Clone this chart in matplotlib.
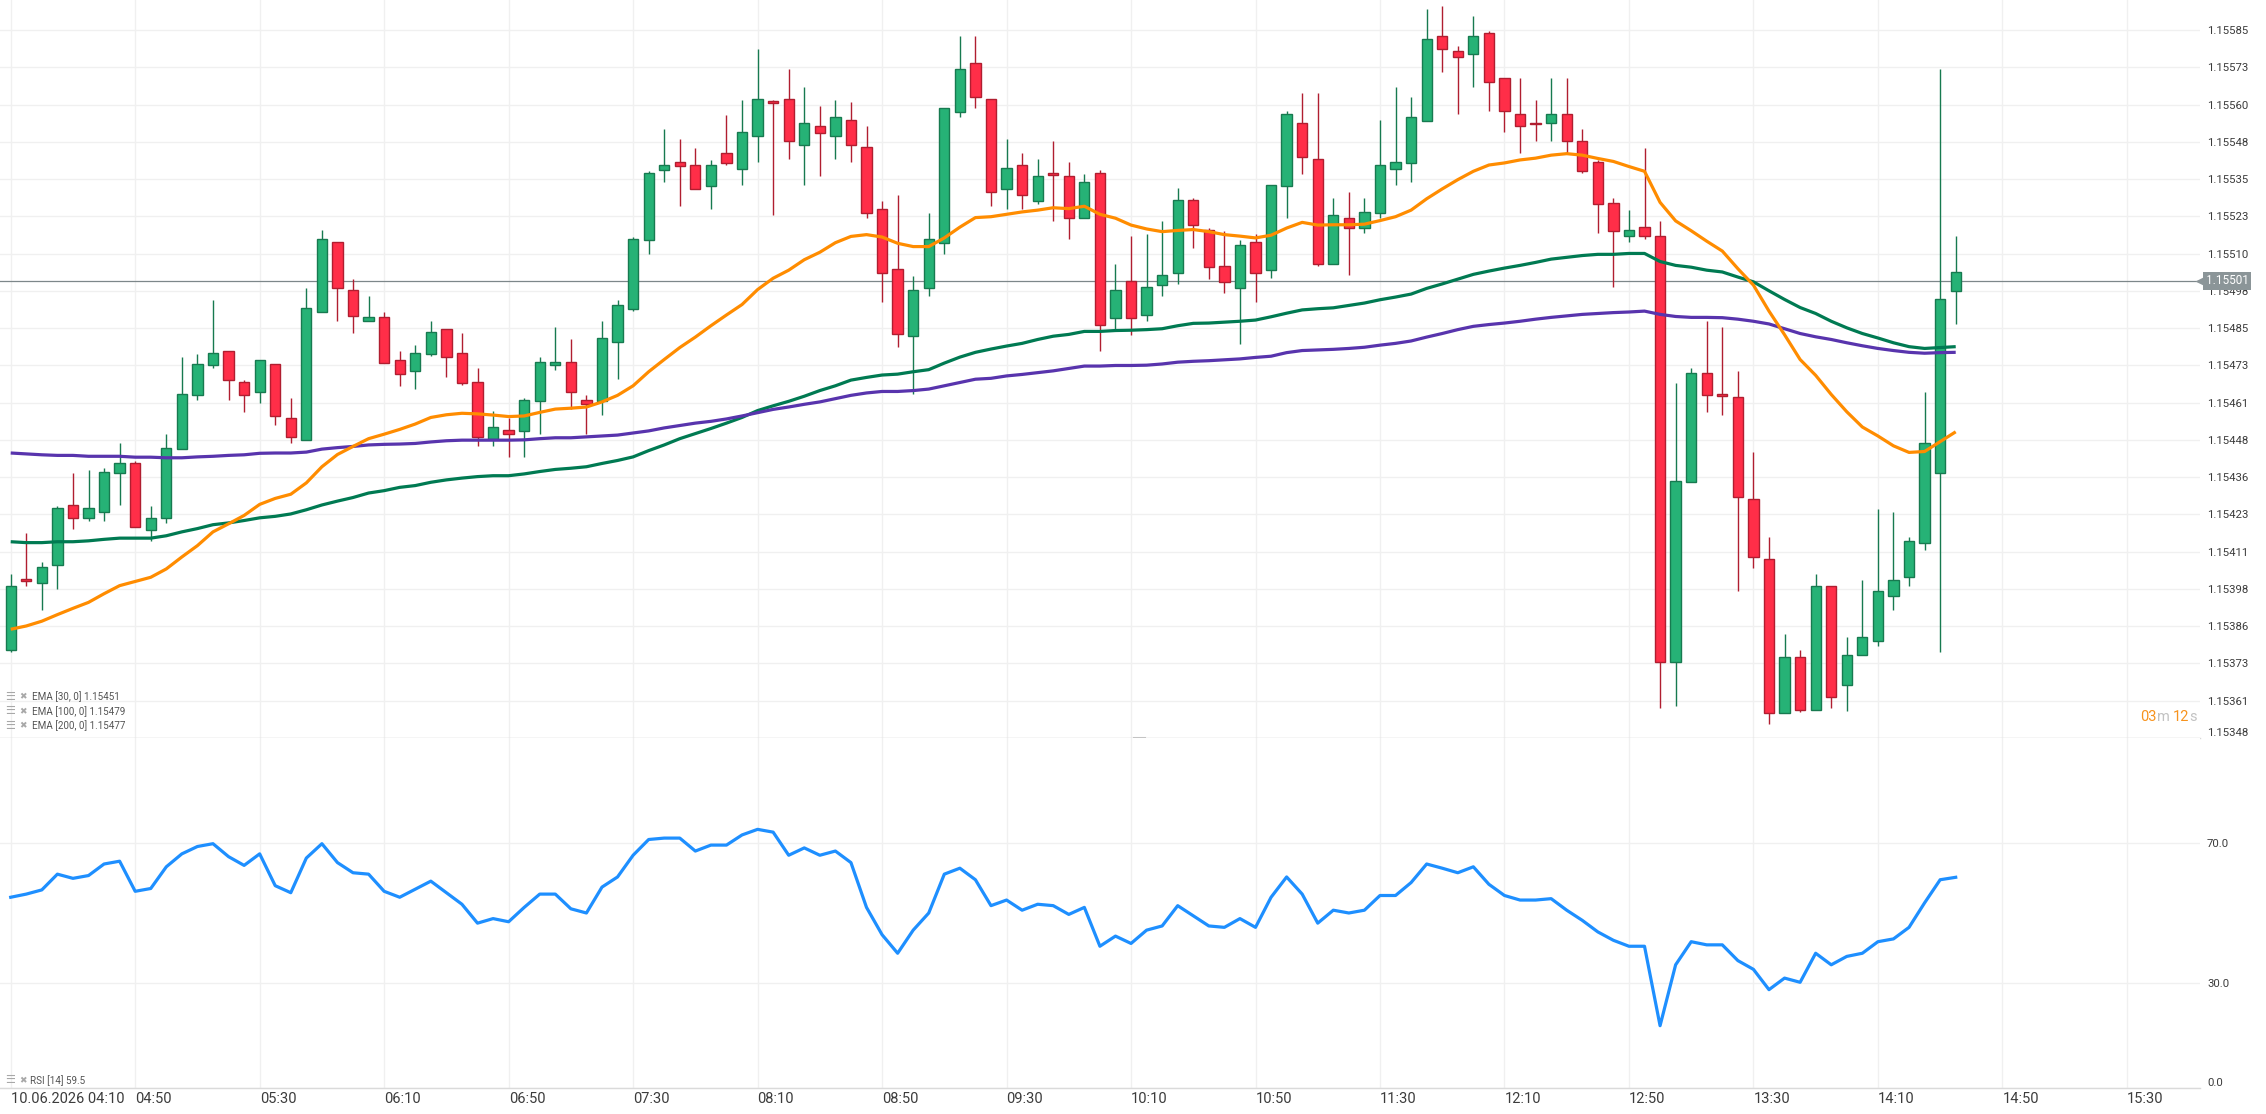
import matplotlib.pyplot as plt
import numpy as np
from matplotlib.transforms import blended_transform_factory, IdentityTransform

# EUR/USD 5 minute candles, 10.06.2026 04:10 - 14:35
opens = [1.153776, 1.154012, 1.153998, 1.154059, 1.154259, 1.154216, 1.154236, 1.154368, 1.154399, 1.154176,
         1.154216, 1.154447, 1.154627, 1.154727, 1.154777, 1.154671, 1.154638, 1.154732, 1.154550, 1.154478,
         1.154906, 1.155140, 1.154980, 1.154875, 1.154888, 1.154747, 1.154708, 1.154765, 1.154849, 1.154769,
         1.154671, 1.154482, 1.154510, 1.154508, 1.154607, 1.154728, 1.154738, 1.154610, 1.154607, 1.154804,
         1.154915, 1.155146, 1.155380, 1.155409, 1.155398, 1.155328, 1.155439, 1.155386, 1.155496, 1.155611,
         1.155619, 1.155466, 1.155529, 1.155496, 1.155549, 1.155459, 1.155250, 1.155050, 1.154825, 1.154988,
         1.155137, 1.155576, 1.155741, 1.155619, 1.155317, 1.155398, 1.155279, 1.155371, 1.155361, 1.155219,
         1.155371, 1.154887, 1.155010, 1.154896, 1.154997, 1.155037, 1.155280, 1.155179, 1.155059, 1.154988,
         1.155140, 1.155046, 1.155328, 1.155538, 1.155418, 1.155067, 1.155220, 1.155187, 1.155238, 1.155386,
         1.155404, 1.155546, 1.155831, 1.155780, 1.155768, 1.155841, 1.155690, 1.155568, 1.155538, 1.155537,
         1.155568, 1.155478, 1.155409, 1.155271, 1.155159, 1.155190, 1.155160, 1.153736, 1.154338, 1.154701,
         1.154632, 1.154621, 1.154281, 1.154078, 1.153564, 1.153751, 1.153575, 1.153990, 1.153656, 1.153757,
         1.153806, 1.153956, 1.154018, 1.154134, 1.154368, 1.154975]
highs = [1.154029, 1.154167, 1.154069, 1.154257, 1.154368, 1.154377, 1.154385, 1.154467, 1.154407, 1.154257,
         1.154497, 1.154757, 1.154765, 1.154947, 1.154777, 1.154679, 1.154747, 1.154732, 1.154619, 1.154988,
         1.155179, 1.155140, 1.155018, 1.154958, 1.154907, 1.154776, 1.154795, 1.154877, 1.154849, 1.154836,
         1.154719, 1.154576, 1.154550, 1.154618, 1.154757, 1.154857, 1.154817, 1.154629, 1.154875, 1.154945,
         1.155157, 1.155379, 1.155518, 1.155486, 1.155454, 1.155415, 1.155567, 1.155617, 1.155788, 1.155617,
         1.155719, 1.155659, 1.155595, 1.155617, 1.155608, 1.155527, 1.155279, 1.155299, 1.155026, 1.155238,
         1.155589, 1.155829, 1.155829, 1.155619, 1.155486, 1.155437, 1.155417, 1.155477, 1.155407, 1.155367,
         1.155380, 1.155068, 1.155159, 1.155168, 1.155209, 1.155320, 1.155288, 1.155187, 1.155178, 1.155146,
         1.155168, 1.155331, 1.155578, 1.155638, 1.155638, 1.155288, 1.155309, 1.155288, 1.155548, 1.155659,
         1.155625, 1.155920, 1.155929, 1.155798, 1.155897, 1.155847, 1.155690, 1.155689, 1.155617, 1.155689,
         1.155689, 1.155518, 1.155415, 1.155288, 1.155249, 1.155456, 1.155209, 1.154668, 1.154719, 1.154877,
         1.154857, 1.154708, 1.154437, 1.154154, 1.153828, 1.153776, 1.154029, 1.153990, 1.153817, 1.154009,
         1.154246, 1.154238, 1.154154, 1.154638, 1.155719, 1.155159]
lows = [1.153768, 1.153990, 1.153909, 1.153979, 1.154178, 1.154208, 1.154208, 1.154259, 1.154186, 1.154140,
        1.154200, 1.154447, 1.154610, 1.154720, 1.154610, 1.154570, 1.154600, 1.154529, 1.154469, 1.154478,
        1.154906, 1.154877, 1.154836, 1.154875, 1.154735, 1.154659, 1.154649, 1.154758, 1.154690, 1.154660,
        1.154459, 1.154459, 1.154420, 1.154420, 1.154499, 1.154711, 1.154580, 1.154499, 1.154561, 1.154681,
        1.154909, 1.155100, 1.155341, 1.155260, 1.155318, 1.155250, 1.155398, 1.155331, 1.155409, 1.155230,
        1.155418, 1.155331, 1.155361, 1.155418, 1.155409, 1.155220, 1.154939, 1.154788, 1.154630, 1.154959,
        1.155100, 1.155559, 1.155589, 1.155260, 1.155250, 1.155250, 1.155269, 1.155211, 1.155149, 1.155219,
        1.154777, 1.154845, 1.154830, 1.154877, 1.154959, 1.154999, 1.155119, 1.155018, 1.154969, 1.154798,
        1.154939, 1.155019, 1.155220, 1.155369, 1.155059, 1.155067, 1.155029, 1.155170, 1.155219, 1.155330,
        1.155341, 1.155546, 1.155709, 1.155568, 1.155660, 1.155579, 1.155508, 1.155439, 1.155478, 1.155478,
        1.155439, 1.155371, 1.155170, 1.154991, 1.155140, 1.155149, 1.153580, 1.153588, 1.154338, 1.154570,
        1.154561, 1.153972, 1.154050, 1.153528, 1.153564, 1.153567, 1.153575, 1.153580, 1.153569, 1.153757,
        1.153789, 1.153909, 1.153990, 1.154108, 1.153768, 1.154866]
closes = [1.153990, 1.154004, 1.154051, 1.154249, 1.154216, 1.154249, 1.154369, 1.154399, 1.154186, 1.154217,
          1.154450, 1.154630, 1.154732, 1.154768, 1.154679, 1.154629, 1.154747, 1.154558, 1.154488, 1.154918,
          1.155151, 1.154986, 1.154894, 1.154888, 1.154735, 1.154698, 1.154768, 1.154839, 1.154754, 1.154667,
          1.154486, 1.154520, 1.154496, 1.154610, 1.154738, 1.154738, 1.154638, 1.154599, 1.154819, 1.154929,
          1.155151, 1.155371, 1.155399, 1.155396, 1.155318, 1.155398, 1.155404, 1.155508, 1.155619, 1.155605,
          1.155477, 1.155538, 1.155505, 1.155559, 1.155466, 1.155238, 1.155037, 1.154834, 1.154980, 1.155151,
          1.155589, 1.155720, 1.155625, 1.155307, 1.155388, 1.155299, 1.155361, 1.155364, 1.155219, 1.155341,
          1.154864, 1.154980, 1.154885, 1.154989, 1.155029, 1.155280, 1.155197, 1.155056, 1.155007, 1.155130,
          1.155037, 1.155331, 1.155568, 1.155424, 1.155067, 1.155230, 1.155187, 1.155241, 1.155398, 1.155409,
          1.155559, 1.155820, 1.155788, 1.155758, 1.155831, 1.155676, 1.155578, 1.155527, 1.155534, 1.155568,
          1.155477, 1.155379, 1.155269, 1.155178, 1.155181, 1.155159, 1.153736, 1.154339, 1.154701, 1.154629,
          1.154624, 1.154287, 1.154086, 1.153564, 1.153751, 1.153575, 1.153990, 1.153616, 1.153759, 1.153819,
          1.153971, 1.154010, 1.154138, 1.154469, 1.154948, 1.155040]

ema30 = [1.153844, 1.153855, 1.153871, 1.153893, 1.153914, 1.153934, 1.153963, 1.153990, 1.154004, 1.154018,
         1.154046, 1.154086, 1.154124, 1.154170, 1.154197, 1.154225, 1.154262, 1.154282, 1.154296, 1.154334,
         1.154388, 1.154429, 1.154456, 1.154482, 1.154497, 1.154513, 1.154531, 1.154553, 1.154562, 1.154567,
         1.154565, 1.154561, 1.154556, 1.154558, 1.154570, 1.154581, 1.154584, 1.154588, 1.154605, 1.154627,
         1.154659, 1.154706, 1.154747, 1.154787, 1.154822, 1.154860, 1.154896, 1.154931, 1.154981, 1.155019,
         1.155046, 1.155081, 1.155106, 1.155138, 1.155159, 1.155165, 1.155157, 1.155136, 1.155125, 1.155125,
         1.155154, 1.155190, 1.155222, 1.155225, 1.155233, 1.155241, 1.155247, 1.155255, 1.155252, 1.155260,
         1.155233, 1.155220, 1.155197, 1.155184, 1.155175, 1.155179, 1.155182, 1.155175, 1.155165, 1.155160,
         1.155154, 1.155163, 1.155187, 1.155206, 1.155197, 1.155198, 1.155198, 1.155200, 1.155212, 1.155225,
         1.155247, 1.155285, 1.155318, 1.155349, 1.155377, 1.155398, 1.155405, 1.155415, 1.155421, 1.155431,
         1.155436, 1.155431, 1.155420, 1.155410, 1.155393, 1.155377, 1.155273, 1.155211, 1.155178, 1.155143,
         1.155110, 1.155051, 1.154996, 1.154909, 1.154830, 1.154747, 1.154694, 1.154630, 1.154572, 1.154521,
         1.154491, 1.154458, 1.154436, 1.154439, 1.154472, 1.154505]
ema100 = [1.154137, 1.154134, 1.154134, 1.154137, 1.154137, 1.154140, 1.154145, 1.154149, 1.154149, 1.154149,
          1.154157, 1.154170, 1.154181, 1.154194, 1.154200, 1.154208, 1.154217, 1.154222, 1.154230, 1.154244,
          1.154260, 1.154273, 1.154285, 1.154300, 1.154308, 1.154319, 1.154325, 1.154336, 1.154344, 1.154350,
          1.154355, 1.154358, 1.154358, 1.154364, 1.154372, 1.154379, 1.154383, 1.154388, 1.154399, 1.154409,
          1.154421, 1.154442, 1.154461, 1.154482, 1.154499, 1.154516, 1.154534, 1.154553, 1.154576, 1.154592,
          1.154607, 1.154624, 1.154643, 1.154659, 1.154678, 1.154687, 1.154695, 1.154698, 1.154706, 1.154713,
          1.154735, 1.154755, 1.154771, 1.154782, 1.154792, 1.154801, 1.154814, 1.154825, 1.154831, 1.154841,
          1.154841, 1.154844, 1.154845, 1.154847, 1.154850, 1.154860, 1.154868, 1.154869, 1.154872, 1.154875,
          1.154879, 1.154890, 1.154902, 1.154913, 1.154917, 1.154920, 1.154928, 1.154936, 1.154947, 1.154956,
          1.154966, 1.154985, 1.155000, 1.155016, 1.155032, 1.155043, 1.155053, 1.155062, 1.155072, 1.155083,
          1.155089, 1.155095, 1.155099, 1.155099, 1.155102, 1.155102, 1.155075, 1.155062, 1.155056, 1.155046,
          1.155040, 1.155023, 1.155007, 1.154977, 1.154948, 1.154921, 1.154901, 1.154875, 1.154853, 1.154834,
          1.154819, 1.154803, 1.154790, 1.154784, 1.154787, 1.154790]
ema200 = [1.154434, 1.154431, 1.154428, 1.154426, 1.154426, 1.154423, 1.154423, 1.154423, 1.154420, 1.154420,
          1.154418, 1.154418, 1.154421, 1.154423, 1.154426, 1.154428, 1.154433, 1.154434, 1.154434, 1.154437,
          1.154447, 1.154452, 1.154456, 1.154461, 1.154463, 1.154464, 1.154466, 1.154471, 1.154475, 1.154477,
          1.154477, 1.154477, 1.154477, 1.154478, 1.154482, 1.154485, 1.154485, 1.154488, 1.154491, 1.154494,
          1.154501, 1.154508, 1.154518, 1.154526, 1.154534, 1.154540, 1.154548, 1.154558, 1.154569, 1.154580,
          1.154588, 1.154597, 1.154605, 1.154616, 1.154627, 1.154635, 1.154640, 1.154640, 1.154643, 1.154648,
          1.154659, 1.154670, 1.154681, 1.154684, 1.154692, 1.154697, 1.154703, 1.154709, 1.154717, 1.154725,
          1.154725, 1.154727, 1.154727, 1.154728, 1.154732, 1.154738, 1.154741, 1.154743, 1.154746, 1.154749,
          1.154754, 1.154758, 1.154770, 1.154777, 1.154779, 1.154781, 1.154784, 1.154788, 1.154795, 1.154801,
          1.154809, 1.154822, 1.154834, 1.154847, 1.154858, 1.154864, 1.154869, 1.154875, 1.154882, 1.154888,
          1.154893, 1.154898, 1.154901, 1.154904, 1.154906, 1.154909, 1.154898, 1.154891, 1.154888, 1.154888,
          1.154887, 1.154882, 1.154875, 1.154866, 1.154850, 1.154834, 1.154823, 1.154814, 1.154803, 1.154793,
          1.154784, 1.154777, 1.154771, 1.154768, 1.154770, 1.154771]

rsi = [54.5, 55.4, 56.6, 61.1, 59.9, 60.7, 64.0, 64.8, 56.2, 57.0,
       63.2, 66.9, 69.0, 69.8, 66.1, 63.6, 66.9, 57.8, 55.8, 65.7,
       69.8, 64.4, 61.5, 61.1, 56.2, 54.5, 56.8, 59.1, 55.8, 52.5,
       47.1, 48.4, 47.5, 51.6, 55.4, 55.4, 51.2, 50.0, 57.4, 60.3,
       66.5, 71.0, 71.4, 71.4, 67.7, 69.4, 69.4, 72.3, 73.9, 73.1,
       66.5, 68.6, 66.5, 67.7, 64.4, 51.6, 43.8, 38.5, 45.1, 50.0,
       61.1, 62.8, 59.5, 52.1, 53.7, 50.8, 52.5, 52.1, 49.6, 51.6,
       40.5, 43.4, 41.3, 45.1, 46.3, 52.1, 49.2, 46.3, 45.9, 48.4,
       45.9, 54.5, 60.3, 55.4, 47.1, 50.8, 50.0, 50.8, 55.0, 55.0,
       58.7, 64.0, 62.8, 61.5, 63.2, 58.2, 55.0, 53.7, 53.7, 54.1,
       50.8, 47.9, 44.6, 42.2, 40.5, 40.5, 17.8, 35.2, 41.8, 40.9,
       40.9, 36.4, 33.9, 28.1, 31.4, 30.2, 38.5, 35.2, 37.6, 38.5,
       41.8, 42.6, 45.9, 52.9, 59.5, 60.2]

time_labels = ['10.06.2026 04:10', '04:50', '05:30', '06:10', '06:50', '07:30', '08:10', '08:50', '09:30',
               '10:10', '10:50', '11:30', '12:10', '12:50', '13:30', '14:10', '14:50', '15:30']
price_labels = ['1.15348', '1.15361', '1.15373', '1.15386', '1.15398', '1.15411', '1.15423', '1.15436',
                '1.15448', '1.15461', '1.15473', '1.15485', '1.15498', '1.15510', '1.15523', '1.15535',
                '1.15548', '1.15560', '1.15573', '1.15585']
rsi_ticks = [0, 30, 70]
rsi_labels = ['0.0', '30.0', '70.0']
last_price = 1.15501
ema_legend = ['EMA [30, 0] 1.15451', 'EMA [100, 0] 1.15479', 'EMA [200, 0] 1.15477']
rsi_legend = 'RSI [14] 59.5'
countdown = [('03', 'orange'), ('m ', 'gray'), ('12', 'orange'), ('s', 'gray')]

GREEN, GREEN_EDGE = '#26b276', '#177a50'
RED, RED_EDGE = '#ff2e48', '#b01e30'
C_EMA30, C_EMA100, C_EMA200 = '#ff8c00', '#007a52', '#5834ad'
C_RSI = '#1e8fff'
GRID = '#f0f0f0'
TXT = '#3c3c3c'
BOX = '#8b9598'

plt.rcParams['font.family'] = ['Roboto', 'DejaVu Sans']

W, H = 2266, 1114
fig = plt.figure(figsize=(W / 100, H / 100), dpi=100)
fig.patch.set_facecolor('white')
ax = fig.add_axes([0, (H - 738) / H, 2200 / W, 738 / H])
ax2 = fig.add_axes([0, (H - 1088) / H, 2200 / W, 350 / H], sharex=ax)

o = np.array(opens)
h = np.array(highs)
l = np.array(lows)
c = np.array(closes)
x = np.arange(len(o))
up = c >= o
face = np.where(up, GREEN, RED)
edge = np.where(up, GREEN_EDGE, RED_EDGE)

ax.vlines(x, l, h, colors=edge, lw=1.0, zorder=3)
ax.bar(x, np.maximum(np.abs(c - o), 0.000004), bottom=np.minimum(o, c), width=0.66,
       color=face, edgecolor=edge, linewidth=1.0, zorder=4)

ax.plot(x, ema100, color=C_EMA100, lw=2.3, zorder=5, solid_capstyle='butt')
ax.plot(x, ema200, color=C_EMA200, lw=2.3, zorder=5, solid_capstyle='butt')
ax.plot(x, ema30, color=C_EMA30, lw=2.3, zorder=6, solid_capstyle='butt')
ax.axhline(last_price, color='#7d878a', lw=0.9, zorder=2)

# axes ranges
xmin, xmax = -0.688, 140.7
ax.set_xlim(xmin, xmax)
price_ticks = np.linspace(float(price_labels[0]), float(price_labels[-1]), len(price_labels))
step = price_ticks[1] - price_ticks[0]
ax.set_ylim(price_ticks[0], price_ticks[-1] + step * 30 / 37.27)
ax2.set_ylim(0, 100)

tick_idx = np.arange(len(time_labels)) * 8
for a in (ax, ax2):
    a.set_xticks(tick_idx)
    a.grid(True, color=GRID, lw=1.0, zorder=0)
    a.set_axisbelow(True)
    a.yaxis.tick_right()
    a.tick_params(axis='y', length=0, pad=5, labelsize=8.2, labelcolor=TXT)
    for s in ('top', 'left', 'right'):
        a.spines[s].set_visible(False)
    a.spines['bottom'].set_color('#dadada')
    a.spines['bottom'].set_linewidth(1.0)

ax.set_yticks(price_ticks)
ax.set_yticklabels(price_labels)
ax.tick_params(axis='x', length=0, labelbottom=False)

ax2.set_yticks(rsi_ticks)
ax2.set_yticklabels(rsi_labels)
# lowest labels sit just above the panel edge
ax.get_yticklabels()[0].set_va('bottom')
ax2.get_yticklabels()[0].set_va('bottom')

ax2.set_xticklabels(time_labels)
ax2.tick_params(axis='x', length=0, pad=3, labelsize=10.5, labelcolor=TXT)
for t in ax2.get_xticklabels():
    t.set_ha('left')
    t.set_family(['Liberation Sans Narrow', 'Roboto'])

ax2.plot(np.arange(len(rsi)), rsi, color=C_RSI, lw=2.3, zorder=5)

# current price tag
trans = blended_transform_factory(ax.transAxes, ax.transData)
ax.text(1.0 + 6 / 2200, last_price, f'{last_price:.5f}', transform=trans, ha='left', va='center',
        color='white', fontsize=8.5, zorder=20, clip_on=False,
        bbox=dict(boxstyle='square,pad=0.22', fc=BOX, ec='none'))
ax.plot([1.0 + 1 / 2200], [last_price], marker='<', ms=8, color=BOX, mec='none',
        transform=trans, clip_on=False, zorder=20)

# indicator legends
icon_font = ['DejaVu Sans']
for k, txt in enumerate(ema_legend):
    yy = 0.0556 - k * 0.0196
    ax.text(0.0022, yy, '\u2630', transform=ax.transAxes, fontsize=8, color='#a8a8a8',
            va='center', family=icon_font)
    ax.text(0.0088, yy, '\u2716', transform=ax.transAxes, fontsize=6.5, color='#a8a8a8',
            va='center', family=icon_font)
    ax.text(0.0145, yy, txt, transform=ax.transAxes, fontsize=7.1, color='#555555', va='center')
ax2.text(0.0022, 0.022, '\u2630', transform=ax2.transAxes, fontsize=8, color='#a8a8a8',
         va='center', family=icon_font)
ax2.text(0.0088, 0.022, '\u2716', transform=ax2.transAxes, fontsize=6.5, color='#a8a8a8',
         va='center', family=icon_font)
ax2.text(0.0135, 0.022, rsi_legend, transform=ax2.transAxes, fontsize=7.1, color='#555555',
         va='center', family=['Liberation Sans Narrow', 'Roboto'])

# small splitter handle between panels
ax.plot([0.5155, 0.52], [0, 0], transform=ax.transAxes, color='#c4c4c4', lw=2.2,
        clip_on=False, zorder=10)

# candle countdown, drawn right to left
renderer = fig.canvas.get_renderer()
px = 2197
for txt, col in reversed(countdown):
    t = fig.text(px, H - 717, txt, transform=IdentityTransform(), ha='right', va='center',
                 fontsize=10.5, color='#f7931e' if col == 'orange' else '#c2c2c2')
    px -= t.get_window_extent(renderer).width

fig.savefig('out.png', dpi=100, facecolor='white')
